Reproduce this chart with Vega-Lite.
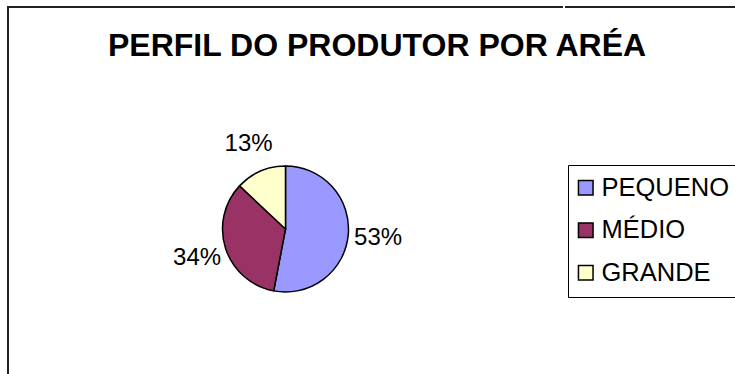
{
  "$schema": "https://vega.github.io/schema/vega-lite/v6.json",
  "autosize": {"type": "none"},
  "padding": {"left": 8, "top": 7, "right": 727, "bottom": 367},
  "background": "white",
  "title": {
    "text": "PERFIL DO PRODUTOR POR ARÉA",
    "font": "Liberation Sans",
    "fontSize": 32,
    "fontWeight": "bold",
    "color": "black",
    "anchor": "start",
    "frame": "group",
    "baseline": "alphabetic",
    "dx": 100,
    "dy": 82,
    "offset": 0
  },
  "data": {
    "values": [
      {"area": "PEQUENO", "pct": 0.53, "ord": 1},
      {"area": "MÉDIO", "pct": 0.34, "ord": 2},
      {"area": "GRANDE", "pct": 0.13, "ord": 3}
    ]
  },
  "spacing": 0,
  "hconcat": [
    {
      "width": 555,
      "height": 444,
      "view": {"stroke": "#222", "strokeWidth": 2, "strokeDash": [555, 999, 444]},
      "encoding": {
        "theta": {"field": "pct", "type": "quantitative", "stack": true},
        "order": {"field": "ord", "type": "quantitative"}
      },
      "layer": [
        {
          "mark": {"type": "arc", "outerRadius": 63, "stroke": "black", "strokeWidth": 1.5},
          "encoding": {
            "color": {
              "field": "area",
              "type": "nominal",
              "scale": {"domain": ["PEQUENO", "MÉDIO", "GRANDE"], "range": ["#9999FF", "#993366", "#FFFFCC"]},
              "legend": {
                "orient": "none",
                "legendX": 560,
                "legendY": 158,
                "title": null,
                "symbolType": "square",
                "symbolSize": 213,
                "symbolOffset": -5,
                "symbolStrokeColor": "black",
                "symbolStrokeWidth": 1.5,
                "labelFont": "Liberation Sans",
                "labelFontSize": 25.5,
                "labelColor": "black",
                "labelOffset": 3,
                "labelLimit": 400,
                "rowPadding": 15.5,
                "padding": 10,
                "strokeColor": "black",
                "fillColor": "white"
              }
            }
          }
        },
        {
          "mark": {"type": "text", "radius": 93, "font": "Liberation Sans", "fontSize": 24},
          "encoding": {
            "text": {"field": "pct", "type": "quantitative", "format": ".0%"},
            "detail": {"field": "area"},
            "color": {"value": "black"}
          }
        }
      ]
    },
    {
      "width": 172,
      "height": 444,
      "view": {"stroke": "#222", "strokeWidth": 2, "strokeDash": [172, 2000]},
      "mark": {"type": "text", "text": ""},
      "encoding": {}
    }
  ]
}
